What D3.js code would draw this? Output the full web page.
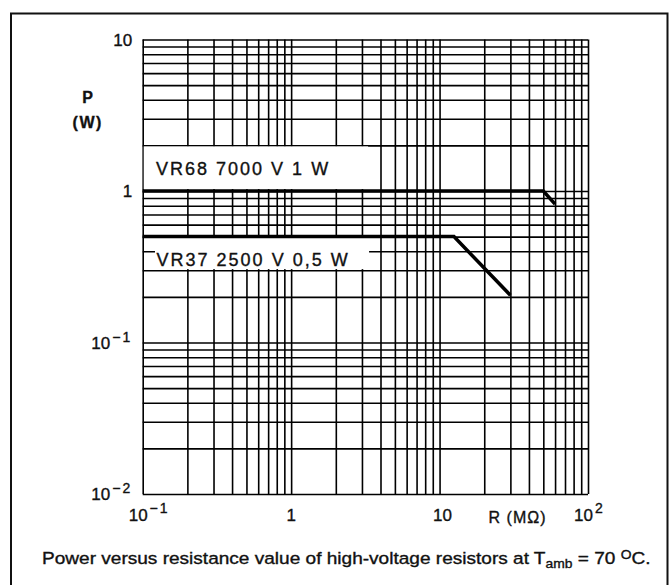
<!DOCTYPE html>
<html>
<head>
<meta charset="utf-8">
<script src="https://cdn.jsdelivr.net/npm/d3@7"></script>
<style>
  body { margin: 0; background: #fff; }
  svg { display: block; }
  .grid line { stroke: #000; stroke-width: 1.6; }
  .grid path { display: none; }
  text { font-family: "Liberation Sans", Arial, Helvetica, sans-serif; fill: #111; }
  .lbl { stroke: #111; stroke-width: 0.35; }
</style>
</head>
<body>
<div id="chart"></div>
<script>
// valores
var resistance = [0.1, 100];          // rango R (MOhm)
var power = [0.01, 10];               // rango P (W)

var vr68R = [0.1, 50, 60];
var vr68P = [1, 1, 0.82];
var vr37R = [0.1, 12.5, 30];
var vr37P = [0.5, 0.5, 0.205];

var xTickVals = [0.1, 1, 10, 100];
var xTickBase = ["10", "1", "10", "10"];
var xTickSup = ["\u22121", "", "", "2"];
var yTickVals = [10, 1, 0.1, 0.01];
var yTickBase = ["10", "1", "10", "10"];
var yTickSup = ["", "", "\u22121", "\u22122"];

var seriesLabels = ["VR68 7000 V 1 W", "VR37 2500 V 0,5 W"];

var W = 669, H = 585;
var margin = {top: 39.5, right: 81, bottom: 91, left: 142.7},
    width = W - margin.left - margin.right,
    height = H - margin.top - margin.bottom;

var x = d3.scaleLog().domain(resistance).range([0, width]);
var y = d3.scaleLog().domain(power).range([height, 0]);

// lineas de rejilla 1..9 por decada
var gridX = [], gridY = [];
[0.1, 1, 10].forEach(function(d) { for (var k = 1; k <= 9; k++) gridX.push(+(d * k).toPrecision(3)); });
gridX.push(100);
[0.01, 0.1, 1].forEach(function(d) { for (var k = 1; k <= 9; k++) gridY.push(+(d * k).toPrecision(3)); });
gridY.push(10);

var root = d3.select("#chart").append("svg")
    .attr("width", W)
    .attr("height", H);

// marco exterior
root.append("path")
    .attr("d", "M11,600 V13.5 H667.5 V600")
    .attr("fill", "none")
    .attr("stroke", "#111")
    .attr("stroke-width", 2);

var svg = root.append("g")
    .attr("transform", "translate(" + margin.left + "," + margin.top + ")");

svg.append("g")
    .attr("class", "grid")
    .call(d3.axisBottom(x).tickValues(gridX).tickSize(height).tickSizeOuter(0).tickFormat(""));

svg.append("g")
    .attr("class", "grid")
    .call(d3.axisLeft(y).tickValues(gridY).tickSize(-width).tickSizeOuter(0).tickFormat(""));

// cajas blancas de las etiquetas
svg.append("rect")
    .attr("x", x(0.1) + 1).attr("y", y(1.97))
    .attr("width", x(3.25) - x(0.1)).attr("height", y(1.03) - y(1.97))
    .attr("fill", "#fff");
svg.append("rect")
    .attr("x", x(0.121)).attr("y", y(0.49))
    .attr("width", x(3.35) - x(0.121)).attr("height", y(0.305) - y(0.49))
    .attr("fill", "#fff");

var valueline = d3.line()
    .x(function(d) { return x(d[0]); })
    .y(function(d) { return y(d[1]); });

svg.append("path")
    .datum(d3.zip(vr68R, vr68P))
    .attr("d", valueline)
    .attr("fill", "none").attr("stroke", "#000").attr("stroke-width", 3.5);
svg.append("path")
    .datum(d3.zip(vr37R, vr37P))
    .attr("d", valueline)
    .attr("fill", "none").attr("stroke", "#000").attr("stroke-width", 3.5);

svg.append("text")
    .attr("class", "lbl")
    .attr("x", x(0.123)).attr("y", 135)
    .style("font-size", "18px").style("letter-spacing", "2px")
    .text(seriesLabels[0]);
svg.append("text")
    .attr("class", "lbl")
    .attr("x", x(0.124)).attr("y", 226)
    .style("font-size", "18px").style("letter-spacing", "2px")
    .text(seriesLabels[1]);

// etiquetas eje Y
yTickVals.forEach(function(v, i) {
  var t = svg.append("text")
      .attr("class", "lbl")
      .attr("x", -10.5).attr("y", y(v) + 6)
      .attr("text-anchor", "end")
      .style("font-size", "17px");
  t.append("tspan").text(yTickBase[i]);
  if (yTickSup[i]) t.append("tspan").attr("dy", -7).attr("dx", 2).style("font-size", "14px").style("letter-spacing", "2px").text(yTickSup[i]);
});

// etiquetas eje X
xTickVals.forEach(function(v, i) {
  var t = svg.append("text")
      .attr("class", "lbl")
      .attr("y", height + 27)
      .style("font-size", "17px");
  if (xTickSup[i]) {
    t.attr("x", x(v) - 14).attr("text-anchor", "start");
  } else {
    t.attr("x", x(v) + (v == 10 ? 3 : 0)).attr("text-anchor", "middle");
  }
  t.append("tspan").text(xTickBase[i]);
  if (xTickSup[i]) t.append("tspan").attr("dy", -8).attr("dx", 2).style("font-size", "14px").style("letter-spacing", "2px").text(xTickSup[i]);
});

svg.append("text")
    .attr("class", "lbl")
    .attr("x", x(10) + 78).attr("y", height + 29)
    .attr("text-anchor", "middle")
    .style("font-size", "16px").style("letter-spacing", "1px")
    .text("R (M\u03a9)");

svg.append("text")
    .attr("class", "lbl")
    .attr("x", -55).attr("y", 63)
    .attr("text-anchor", "middle")
    .style("font-size", "16px").style("font-weight", "bold")
    .text("P");
svg.append("text")
    .attr("class", "lbl")
    .attr("x", -55).attr("y", 88)
    .attr("text-anchor", "middle")
    .style("font-size", "16px").style("font-weight", "bold").style("letter-spacing", "1.5px")
    .text("(W)");

// pie de figura
var cap = root.append("text")
    .attr("class", "lbl")
    .attr("transform", "translate(42,564) scale(1.155,1)")
    .style("font-size", "16.5px");
cap.append("tspan").text("Power versus resistance value of high-voltage resistors at T");
cap.append("tspan").attr("dy", 4).style("font-size", "12px").text("amb");
cap.append("tspan").attr("dy", -4).text(" = 70 ");
cap.append("tspan").attr("dy", -5).style("font-size", "12px").text("O");
cap.append("tspan").attr("dy", 5).text("C.");
</script>
</body>
</html>
